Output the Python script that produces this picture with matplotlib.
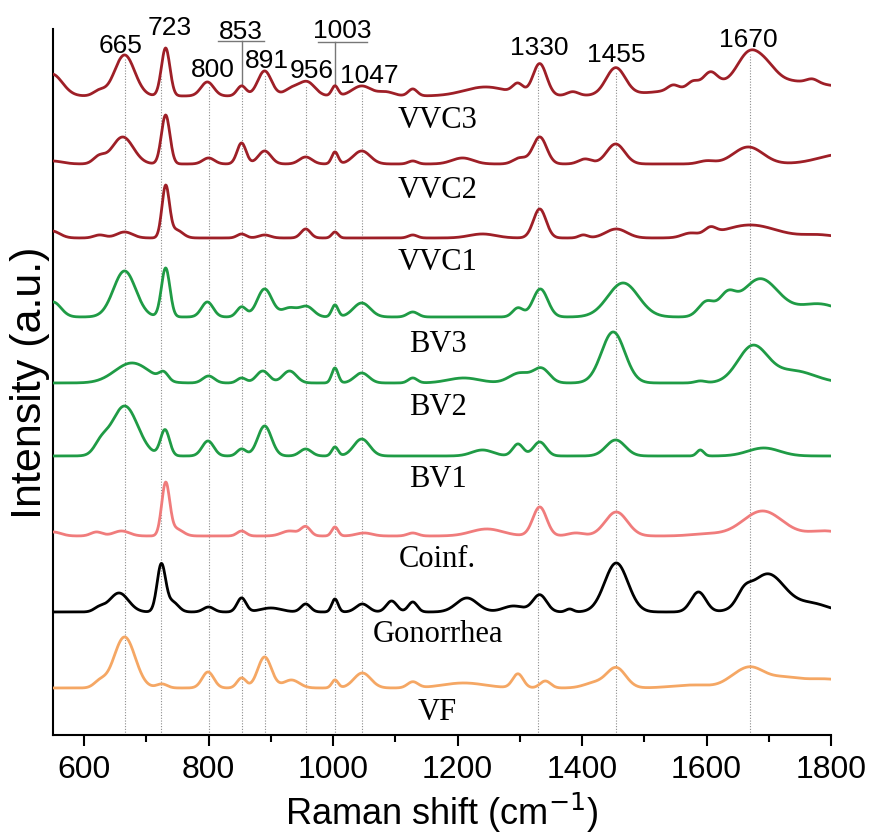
import numpy as np
import matplotlib
matplotlib.use("Agg")
import matplotlib.pyplot as plt

# ------------------------------------------
# SPECTRA: peak tables (centre cm-1, height, FWHM cm-1)
# each spectrum sits on its own offset baseline
# ------------------------------------------

names = ["VVC3", "VVC2", "VVC1", "BV3", "BV2", "BV1", "Coinf.", "Gonorrhea", "VF"]
colors = ["#9E1F27", "#9E1F27", "#9E1F27",
          "#1F9B45", "#1F9B45", "#1F9B45",
          "#F07C7C", "#000000", "#F5A764"]
offsets = [639, 571, 497, 418, 352, 279, 199, 123, 47]

peaks_vvc3 = [(548, 22, 40), (624, 5, 22), (665, 41, 38), (731, 48, 16), (798, 14, 24),
              (853, 10, 17), (890, 25, 26), (933, 7, 27), (958, 14, 30), (1003, 10, 12),
              (1046, 10, 36), (1085, 4, 30), (1128, 7, 17), (1245, 9, 80), (1297, 10, 20),
              (1332, 32, 26), (1385, 4, 22), (1454, 27, 36), (1546, 5, 20), (1578, 6, 20),
              (1606, 13, 26), (1667, 26, 42), (1695, 14, 40), (1700, 16, 260), (1770, 4, 22)]
peaks_vvc2 = [(548, 3, 40), (624, 7, 22), (662, 27, 40), (731, 49, 16), (800, 6, 22),
              (853, 21, 17), (890, 13, 24), (956, 7, 24), (1003, 12, 12), (1046, 13, 32),
              (1128, 3, 17), (1208, 6, 40), (1300, 6, 25), (1332, 27, 26), (1405, 5, 25),
              (1454, 20, 34), (1600, 3, 30), (1667, 17, 56), (1820, 10, 90)]
peaks_vvc1 = [(548, 7, 30), (625, 3, 22), (665, 6, 30), (731, 51, 14), (748, 8, 24),
              (853, 4, 17), (890, 3, 22), (956, 9, 18), (1003, 6, 12), (1128, 3, 17),
              (1240, 4, 50), (1332, 29, 24), (1402, 3, 17), (1455, 9, 40), (1573, 4, 30),
              (1606, 7, 22), (1670, 13, 100), (1780, 3, 60)]
peaks_bv3 = [(550, 15, 30), (665, 46, 42), (731, 49, 16), (798, 15, 22), (853, 10, 18),
             (890, 28, 28), (930, 9, 30), (958, 10, 26), (1003, 12, 12), (1046, 14, 32),
             (1128, 5, 20), (1297, 9, 20), (1333, 28, 28), (1466, 34, 58), (1600, 15, 30),
             (1633, 18, 30), (1686, 38, 70), (1780, 13, 80)]
peaks_bv2 = [(677, 20, 65), (728, 8, 17), (800, 7, 22), (853, 5, 17), (887, 12, 24),
             (930, 12, 26), (1003, 15, 12), (1046, 10, 27), (1128, 5, 17), (1210, 5, 60),
             (1300, 10, 40), (1335, 14, 30), (1450, 51, 44), (1590, 2, 20), (1674, 36, 56),
             (1740, 12, 80)]
peaks_bv1 = [(627, 10, 25), (665, 50, 50), (730, 26, 17), (799, 15, 22), (853, 7, 17),
             (890, 30, 26), (956, 7, 22), (1003, 9, 12), (1046, 17, 30), (1240, 6, 40),
             (1297, 12, 20), (1332, 14, 24), (1454, 16, 36), (1590, 6, 13), (1692, 8, 60)]
peaks_coinf = [(550, 4, 30), (620, 4, 22), (660, 5, 30), (731, 52, 15), (748, 7, 25),
               (853, 5, 17), (930, 5, 30), (956, 9, 18), (1003, 9, 12), (1050, 3, 30),
               (1128, 3, 20), (1247, 7, 60), (1332, 29, 26), (1390, 3, 30), (1455, 24, 42),
               (1600, 2, 60), (1690, 25, 75), (1790, 5, 60)]
peaks_gon = [(624, 4, 20), (656, 19, 36), (724, 47, 16), (742, 10, 22), (800, 5, 20),
             (853, 14, 17), (900, 4, 40), (956, 8, 18), (1003, 13, 12), (1047, 8, 24),
             (1094, 11, 20), (1128, 10, 17), (1215, 14, 40), (1290, 6, 40), (1332, 17, 26),
             (1380, 3, 14), (1455, 49, 44), (1587, 20, 28), (1660, 11, 26), (1698, 38, 66),
             (1770, 8, 60)]
peaks_vf = [(625, 6, 22), (665, 51, 40), (725, 4, 20), (799, 16, 22), (853, 10, 17),
            (890, 31, 26), (933, 8, 30), (1003, 8, 12), (1047, 15, 32), (1128, 6, 20),
            (1210, 5, 80), (1297, 14, 20), (1341, 7, 20), (1420, 5, 40), (1455, 20, 36),
            (1580, 3, 80), (1640, 4, 40), (1670, 19, 52), (1720, 8, 60), (1790, 9, 100)]

all_peaks = [peaks_vvc3, peaks_vvc2, peaks_vvc1, peaks_bv3, peaks_bv2,
             peaks_bv1, peaks_coinf, peaks_gon, peaks_vf]

# marked bands and where their labels go
bands = [665, 723, 800, 853, 891, 956, 1003, 1047, 1330, 1455, 1670]
band_label_x = [658, 737, 806, 852, 894, 965, 1014, 1058, 1332, 1455, 1667]
band_label_y = [683, 701, 659, 697, 668, 658, 698, 653, 681, 674, 689]
bracketed = {853: (815, 889, 694), 1003: (975, 1055, 693)}

label_x = 1168
label_y = [608, 538, 466, 384, 321, 249, 169, 94, 16]


def spectrum(x, peaks):
    y = np.zeros_like(x)
    for c, h, w in peaks:
        y += h * np.exp(-4 * np.log(2) * (x - c) ** 2 / w ** 2)
    return y


x = np.linspace(550, 1800, 1251)

plt.rcParams['font.family'] = ['Liberation Sans', 'DejaVu Sans']

fig = plt.figure(figsize=(8.7, 8.37), dpi=100)
ax = fig.add_axes([0.0609, 0.1207, 0.8943, 0.8435])

curves = []
for peaks, off, col in zip(all_peaks, offsets, colors):
    y = off + spectrum(x, peaks)
    curves.append(y)
    ax.plot(x, y, color=col, lw=2.0, zorder=3, solid_capstyle="round")

# dotted guide lines from the top spectrum down to the axis
top = curves[0]
for b in bands:
    yt = np.interp(b, x, top) - 4
    ax.plot([b, b], [0, yt], color="#8C8C8C", lw=0.8, ls=(0, (1, 1.5)), zorder=1)

# band labels
for b, lx, ly in zip(bands, band_label_x, band_label_y):
    ax.text(lx, ly, str(b), ha="center", va="baseline", fontsize=19)

# bracket lines for the crowded labels
for b, (x0, x1, yb) in bracketed.items():
    ax.plot([x0, x1], [yb, yb], color="#777777", lw=1.0, zorder=2)
    ax.plot([b, b], [yb, np.interp(b, x, top) + 2], color="#777777", lw=1.0, zorder=2)

# sample names
for name, ly in zip(names, label_y):
    ax.text(label_x, ly, name, ha="center", va="baseline", fontsize=22,
            family=["Liberation Serif", "DejaVu Serif"])

ax.set_xlim(550, 1800)
ax.set_ylim(0, 706)
ax.set_xticks(np.arange(600, 1801, 200))
ax.set_xticks(np.arange(700, 1800, 200), minor=True)
ax.set_yticks([])

for s in ["top", "right"]:
    ax.spines[s].set_visible(False)
ax.spines["left"].set_linewidth(1.5)
ax.spines["bottom"].set_linewidth(1.5)
ax.tick_params(axis="x", which="major", direction="out", length=8, width=1.5,
               labelsize=23, pad=6)
ax.tick_params(axis="x", which="minor", direction="out", length=5, width=1.5)

ax.set_xlabel("Raman shift (cm$^{-1}$)", fontsize=26, labelpad=4)
ax.set_ylabel("Intensity (a.u.)", fontsize=31, labelpad=2)

fig.savefig("out.png", dpi=100)
